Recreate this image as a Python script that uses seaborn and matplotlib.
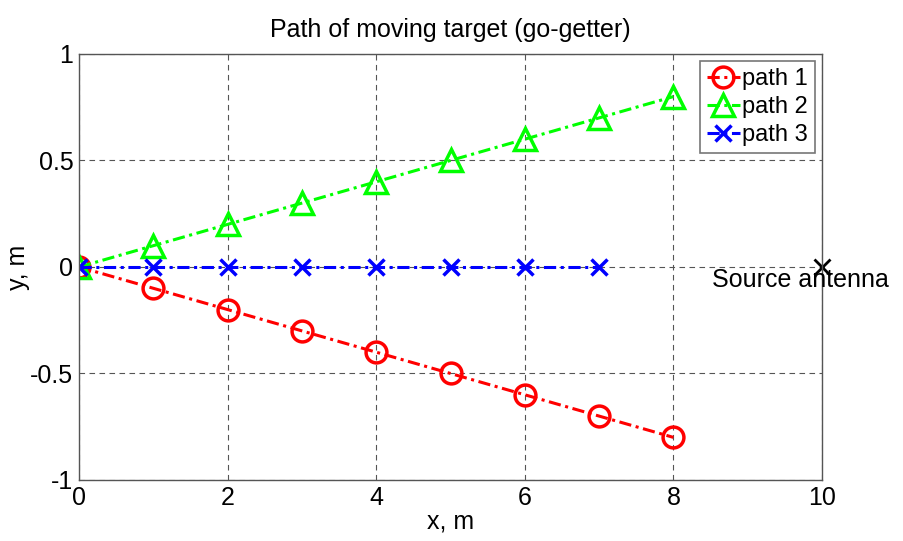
import numpy as np
import matplotlib
matplotlib.use("Agg")
import matplotlib.pyplot as plt
import seaborn as sns

# data
path1_x = [0, 1, 2, 3, 4, 5, 6, 7, 8]
path1_y = [0, -0.1, -0.2, -0.3, -0.4, -0.5, -0.6, -0.7, -0.8]
path2_x = [0, 1, 2, 3, 4, 5, 6, 7, 8]
path2_y = [0, 0.1, 0.2, 0.3, 0.4, 0.5, 0.6, 0.7, 0.8]
path3_x = [0, 1, 2, 3, 4, 5, 6, 7]
path3_y = [0, 0, 0, 0, 0, 0, 0, 0]
source_x = [10]
source_y = [0]

x_ticks = [0, 2, 4, 6, 8, 10]
y_ticks = [-1, -0.5, 0, 0.5, 1]
y_tick_labels = ['-1', '-0.5', '0', '0.5', '1']

sns.set_style("white")
plt.rcParams['font.family'] = ['Liberation Sans', 'DejaVu Sans']
plt.rcParams['text.color'] = 'black'
plt.rcParams['axes.labelcolor'] = 'black'
plt.rcParams['xtick.color'] = 'black'
plt.rcParams['ytick.color'] = 'black'
FS = 18

fig = plt.figure(figsize=(9.04, 5.41), dpi=100)
ax = fig.add_axes([0.0874, 0.1128, 0.8219, 0.7874])

dash = (4, 1.5, 1, 1.5)
sns.lineplot(x=path1_x, y=path1_y, color='#ff0000', marker='o', label='path 1',
             lw=2.2, dashes=dash, mfc='none', mec='#ff0000', mew=2.5, ms=15,
             sort=False, ax=ax)
sns.lineplot(x=path2_x, y=path2_y, color='#00ff00', marker='^', label='path 2',
             lw=2.2, dashes=dash, mfc='none', mec='#00ff00', mew=2.5, ms=16,
             sort=False, ax=ax)
sns.lineplot(x=path3_x, y=path3_y, color='#0000ff', marker='x', label='path 3',
             lw=2.2, dashes=dash, mec='#0000ff', mew=2.5, ms=11,
             sort=False, ax=ax)

ax.plot(source_x, source_y, 'kx', ms=12, mew=2, clip_on=False)
ax.text(8.52, -0.06, 'Source antenna', fontsize=FS, va='center', ha='left')

ax.set_xlim(0, 10)
ax.set_ylim(-1, 1)
ax.set_xticks(x_ticks)
ax.set_xticklabels([str(t) for t in x_ticks], fontsize=FS)
ax.set_yticks(y_ticks)
ax.set_yticklabels(y_tick_labels, fontsize=FS)
ax.tick_params(direction='in', length=0, pad=4)
ax.grid(True, ls='--', color='#555555', lw=0.8, dashes=(5, 4))
for s in ax.spines.values():
    s.set_color('#555555')
    s.set_linewidth(1.0)

ax.set_title('Path of moving target (go-getter)', fontsize=FS, pad=12)
ax.set_xlabel('x, m', fontsize=FS, labelpad=0)
ax.set_ylabel('y, m', fontsize=FS, labelpad=0)

leg = ax.legend(loc='upper right', fontsize=17, fancybox=False, framealpha=1,
                edgecolor='#777777', handlelength=1.4, handletextpad=0.1,
                borderpad=0.3, labelspacing=0.25, borderaxespad=0.3)
leg.get_frame().set_linewidth(1.2)

fig.savefig('out.png', dpi=100)
